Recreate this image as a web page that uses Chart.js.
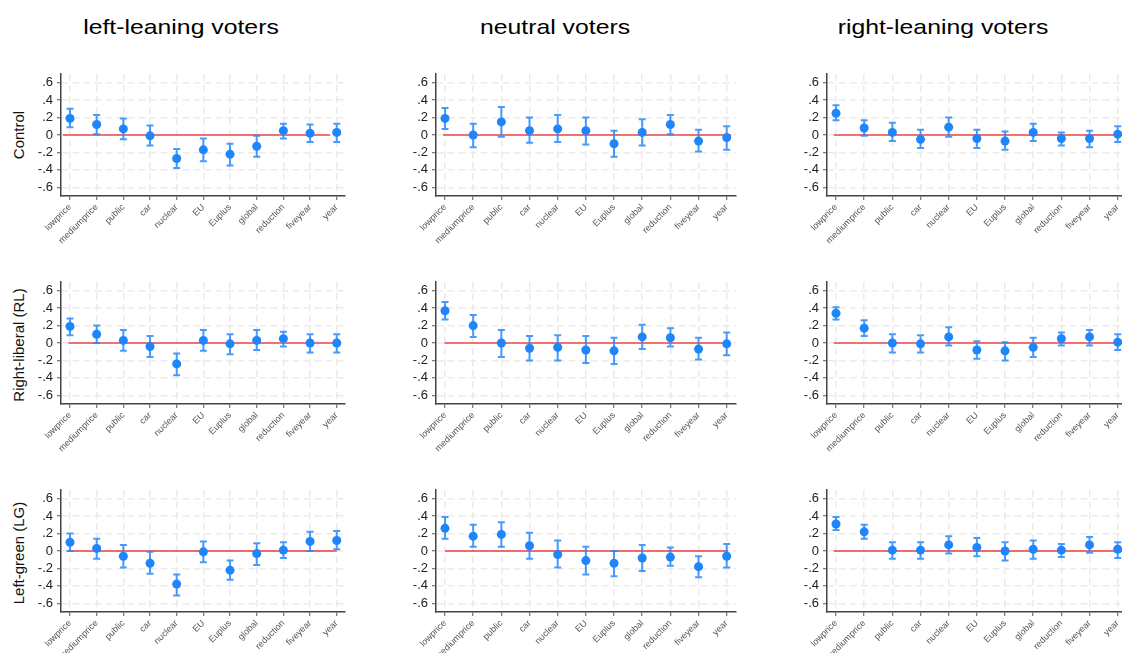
<!DOCTYPE html>
<html>
<head>
<meta charset="utf-8">
<script src="https://cdn.jsdelivr.net/npm/chart.js@4.4.1/dist/chart.umd.min.js"></script>
<style>
  body { margin: 0; width: 1122px; height: 653px; overflow: hidden; background: #fff; position: relative;
         font-family: "Liberation Sans", Arial, sans-serif; }
  canvas.panel { position: absolute; }
  .coltitle { position: absolute; top: 16px; font-size: 21px; line-height: 1; transform: translateX(-50%) scaleX(1.18); white-space: nowrap; color: #000; }
  .rowtitle { position: absolute; left: 18px; font-size: 15px; line-height: 1; white-space: nowrap; color: #111;
              transform: translate(-50%, -50%) rotate(-90deg); }
</style>
</head>
<body>
<script>
const cats = ['lowprice', 'mediumprice', 'public', 'car', 'nuclear', 'EU', 'Euplus', 'global', 'reduction', 'fiveyear', 'year'];
const yTicks = [-0.6, -0.4, -0.2, 0, 0.2, 0.4, 0.6];
const colTitles = ['left-leaning voters', 'neutral voters', 'right-leaning voters'];
const rowTitles = ['Control', 'Right-liberal (RL)', 'Left-green (LG)'];

// Control
const ctrlLeftEst = [0.19, 0.12, 0.07, -0.01, -0.27, -0.17, -0.22, -0.13, 0.05, 0.02, 0.03];
const ctrlLeftLo  = [0.09, 0.01, -0.05, -0.12, -0.38, -0.30, -0.35, -0.25, -0.04, -0.08, -0.08];
const ctrlLeftHi  = [0.30, 0.23, 0.19, 0.11, -0.16, -0.04, -0.10, -0.01, 0.13, 0.12, 0.13];
const ctrlNeutEst = [0.19, 0.00, 0.15, 0.05, 0.07, 0.05, -0.10, 0.03, 0.12, -0.07, -0.03];
const ctrlNeutLo  = [0.07, -0.14, -0.02, -0.09, -0.08, -0.11, -0.25, -0.12, 0.01, -0.19, -0.17];
const ctrlNeutHi  = [0.31, 0.13, 0.32, 0.20, 0.23, 0.20, 0.05, 0.18, 0.23, 0.06, 0.10];
const ctrlRightEst = [0.25, 0.08, 0.03, -0.05, 0.09, -0.04, -0.07, 0.03, -0.04, -0.04, 0.01];
const ctrlRightLo  = [0.17, -0.01, -0.07, -0.15, -0.02, -0.15, -0.17, -0.07, -0.12, -0.14, -0.08];
const ctrlRightHi  = [0.34, 0.17, 0.14, 0.06, 0.20, 0.06, 0.04, 0.13, 0.03, 0.05, 0.10];

// Right-liberal (RL)
const rlLeftEst = [0.19, 0.10, 0.03, -0.04, -0.24, 0.03, -0.01, 0.03, 0.05, 0.00, 0.00];
const rlLeftLo  = [0.09, 0.00, -0.09, -0.16, -0.37, -0.09, -0.13, -0.08, -0.04, -0.11, -0.11];
const rlLeftHi  = [0.28, 0.20, 0.15, 0.08, -0.12, 0.15, 0.10, 0.15, 0.13, 0.10, 0.10];
const rlNeutEst = [0.37, 0.20, 0.00, -0.06, -0.05, -0.08, -0.09, 0.07, 0.06, -0.07, -0.01];
const rlNeutLo  = [0.27, 0.07, -0.16, -0.20, -0.20, -0.23, -0.24, -0.07, -0.04, -0.19, -0.14];
const rlNeutHi  = [0.47, 0.32, 0.15, 0.08, 0.09, 0.08, 0.06, 0.21, 0.17, 0.06, 0.12];
const rlRightEst = [0.34, 0.17, 0.00, -0.01, 0.07, -0.08, -0.09, -0.05, 0.05, 0.07, 0.01];
const rlRightLo  = [0.27, 0.08, -0.11, -0.11, -0.03, -0.18, -0.20, -0.16, -0.03, -0.03, -0.08];
const rlRightHi  = [0.41, 0.26, 0.10, 0.09, 0.18, 0.02, 0.01, 0.06, 0.12, 0.15, 0.10];

// Left-green (LG)
const lgLeftEst = [0.10, 0.03, -0.06, -0.14, -0.38, -0.01, -0.22, -0.03, 0.01, 0.11, 0.12];
const lgLeftLo  = [0.00, -0.09, -0.19, -0.26, -0.51, -0.13, -0.33, -0.16, -0.08, 0.00, 0.02];
const lgLeftHi  = [0.20, 0.14, 0.07, -0.01, -0.27, 0.11, -0.11, 0.09, 0.10, 0.22, 0.23];
const lgNeutEst = [0.26, 0.17, 0.19, 0.06, -0.04, -0.11, -0.14, -0.08, -0.07, -0.18, -0.06];
const lgNeutLo  = [0.14, 0.05, 0.05, -0.09, -0.19, -0.27, -0.29, -0.23, -0.17, -0.30, -0.19];
const lgNeutHi  = [0.39, 0.30, 0.33, 0.21, 0.12, 0.05, 0.00, 0.07, 0.04, -0.06, 0.08];
const lgRightEst = [0.31, 0.22, 0.01, 0.01, 0.07, 0.04, 0.00, 0.02, 0.01, 0.07, 0.02];
const lgRightLo  = [0.24, 0.14, -0.09, -0.09, -0.03, -0.06, -0.11, -0.09, -0.07, -0.02, -0.08];
const lgRightHi  = [0.39, 0.30, 0.10, 0.10, 0.17, 0.15, 0.10, 0.12, 0.08, 0.16, 0.10];

const panels = [
  [ctrlLeftEst, ctrlLeftLo, ctrlLeftHi], [ctrlNeutEst, ctrlNeutLo, ctrlNeutHi], [ctrlRightEst, ctrlRightLo, ctrlRightHi],
  [rlLeftEst, rlLeftLo, rlLeftHi], [rlNeutEst, rlNeutLo, rlNeutHi], [rlRightEst, rlRightLo, rlRightHi],
  [lgLeftEst, lgLeftLo, lgLeftHi], [lgNeutEst, lgNeutLo, lgNeutHi], [lgRightEst, lgRightLo, lgRightHi]
];

// zero reference line extent (in category units)
const zeroFrom = [-0.26, -0.07, -0.08, -0.06, -0.02, -0.08, -0.07, 0.0, -0.08];
const zeroTo   = [9.75, 10.16, 10.4, 10.05, 10.0, 10.4, 10.0, 10.05, 10.4];

// layout
const axisLeft = [61, 436, 827];
const areaWidth = [284, 300, 300];
const xMin = [-0.3375, -0.32, -0.32];
const xMax = [10.31, 10.33, 10.33];
const areaTop = [74, 282, 490];
const areaHeight = 122;
const yAxisW = 40, xAxisH = 48, padTop = 16, padRight = 10;
const FONT = '"Liberation Sans", Arial, sans-serif';

colTitles.forEach((t, c) => {
  const d = document.createElement('div');
  d.className = 'coltitle';
  d.textContent = t;
  d.style.left = [181, 555, 943][c] + 'px';
  document.body.appendChild(d);
});
rowTitles.forEach((t, r) => {
  const d = document.createElement('div');
  d.className = 'rowtitle';
  d.textContent = t;
  d.style.top = [135, 345, 553][r] + 'px';
  document.body.appendChild(d);
});

function errorBars(lo, hi) {
  return {
    id: 'errorBars',
    afterDatasetDraw(chart, args) {
      if (args.index !== 1) return; // draw right after the zero line
      const { ctx, scales: { x, y } } = chart;
      ctx.save();
      ctx.strokeStyle = 'rgba(40,138,250,0.85)';
      ctx.lineWidth = 2;
      lo.forEach((l, i) => {
        const px = x.getPixelForValue(i);
        const y1 = y.getPixelForValue(l), y2 = y.getPixelForValue(hi[i]);
        ctx.beginPath();
        ctx.moveTo(px, y1); ctx.lineTo(px, y2);
        ctx.moveTo(px - 3.5, y1); ctx.lineTo(px + 3.5, y1);
        ctx.moveTo(px - 3.5, y2); ctx.lineTo(px + 3.5, y2);
        ctx.stroke();
      });
      ctx.restore();
    }
  };
}

function fmtY(v) {
  if (Math.abs(v) < 1e-9) return '0';
  return (v < 0 ? '-' : '') + Math.abs(v).toFixed(1).replace(/^0/, '');
}

panels.forEach(([est, lo, hi], k) => {
  const r = Math.floor(k / 3), c = k % 3;
  const cv = document.createElement('canvas');
  cv.className = 'panel';
  const w = yAxisW + areaWidth[c] + padRight, h = padTop + areaHeight + xAxisH;
  cv.width = w; cv.height = h;
  cv.style.width = w + 'px'; cv.style.height = h + 'px';
  cv.style.left = (axisLeft[c] - yAxisW) + 'px';
  cv.style.top = (areaTop[r] - padTop) + 'px';
  document.body.appendChild(cv);

  new Chart(cv.getContext('2d'), {
    type: 'scatter',
    data: {
      datasets: [{
        data: est.map((v, i) => ({ x: i, y: v })),
        backgroundColor: '#1e85fa',
        pointRadius: 4.5,
        pointBorderWidth: 0,
        order: 0
      }, {
        type: 'line',
        data: [{ x: zeroFrom[k], y: 0 }, { x: zeroTo[k], y: 0 }],
        borderColor: r === 2 ? 'rgba(240,40,40,0.9)' : 'rgba(238,90,90,0.85)',
        borderWidth: r === 2 ? 1.6 : 2,
        pointRadius: 0,
        order: 1
      }]
    },
    options: {
      responsive: false,
      animation: false,
      events: [],
      layout: { padding: { top: padTop, right: padRight, left: 0, bottom: 0 } },
      plugins: { legend: { display: false }, tooltip: { enabled: false } },
      scales: {
        x: {
          type: 'linear',
          min: xMin[c],
          max: xMax[c],
          afterBuildTicks: s => { s.ticks = cats.map((_, i) => ({ value: i })); },
          afterFit: s => { s.height = xAxisH; },
          grid: { color: '#ebebeb', lineWidth: 1.5, tickLength: 4, tickColor: '#555', tickWidth: 1 },
          border: { color: '#444', width: 1.5, dash: [7, 4] },
          ticks: {
            autoSkip: false, minRotation: 45, maxRotation: 45, padding: 2,
            color: '#555', font: { size: 9, family: FONT },
            callback: v => cats[Math.round(v)]
          }
        },
        y: {
          min: -0.7,
          max: 0.7,
          afterBuildTicks: s => { s.ticks = yTicks.map(v => ({ value: v })); },
          afterFit: s => { s.width = yAxisW; },
          grid: { color: '#ebebeb', lineWidth: 1.5, tickLength: 4, tickColor: '#555', tickWidth: 1 },
          border: { color: '#444', width: 1.5, dash: [7, 4] },
          ticks: { padding: 4, color: '#222', font: { size: 13, family: FONT }, callback: v => fmtY(v) }
        }
      }
    },
    plugins: [errorBars(lo, hi)]
  });
});
</script>
</body>
</html>
